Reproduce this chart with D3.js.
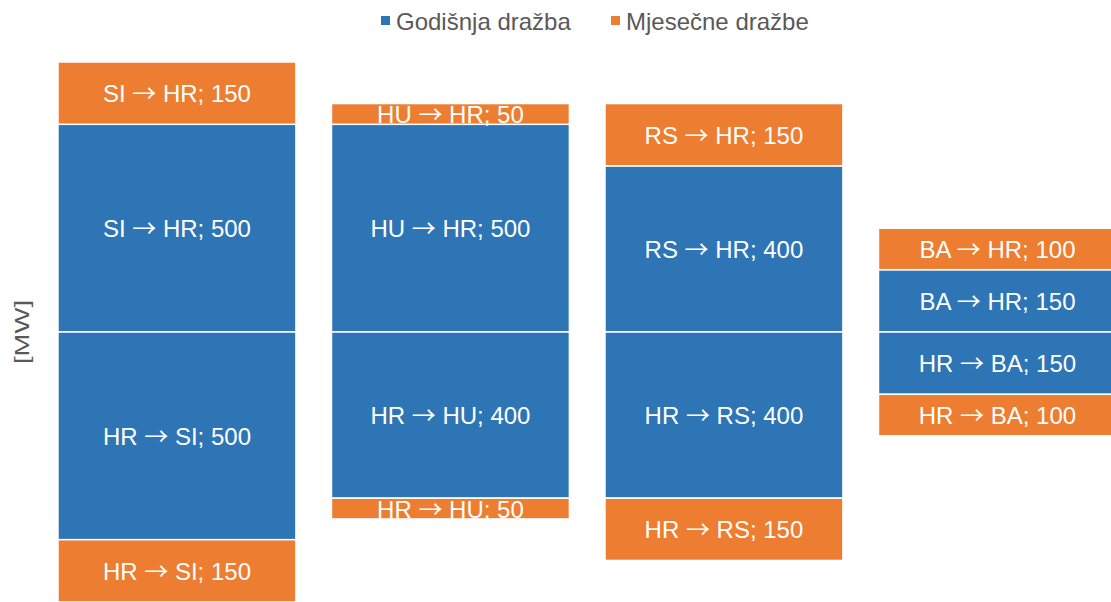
<!DOCTYPE html>
<html><head><meta charset="utf-8">
<script src="https://cdn.jsdelivr.net/npm/d3@7"></script>
<style>html,body{margin:0;padding:0;background:#fff;overflow:hidden}</style>
</head><body>
<svg id="c" width="1111" height="602"></svg>
<script>
const groups = ["SI", "HU", "RS", "BA"];
const annualImport = [500, 500, 400, 150];   // X → HR, Godišnja dražba
const monthlyImport = [150, 50, 150, 100];   // X → HR, Mjesečne dražbe
const annualExport = [500, 400, 400, 150];   // HR → X, Godišnja dražba
const monthlyExport = [150, 50, 150, 100];   // HR → X, Mjesečne dražbe
const legendLabels = ["Godišnja dražba", "Mjesečne dražbe"];
const yLabel = "[MW]";

const colors = { annual: "#2E75B6", monthly: "#ED7D31" };
const keys = ["annualImport", "monthlyImport", "annualExport", "monthlyExport"];
const kind = { annualImport: "annual", monthlyImport: "monthly", annualExport: "annual", monthlyExport: "monthly" };
const FONT = "Liberation Sans, Arial, sans-serif";

const rows = groups.map((g, i) => ({
  group: g,
  annualImport: annualImport[i],
  monthlyImport: monthlyImport[i],
  annualExport: -annualExport[i],
  monthlyExport: -monthlyExport[i]
}));

const series = d3.stack().keys(keys).offset(d3.stackOffsetDiverging)(rows);

const svg = d3.select("#c");
const x = d3.scaleBand().domain(groups).range([40.2, 1134.2]).paddingInner(0.13).paddingOuter(0.065);
const y = d3.scaleLinear().domain([-650, 650]).range([602, 62]);

const g = svg.append("g");
series.forEach(s => {
  const key = s.key;
  const seg = g.selectAll(null).data(s).enter();
  seg.append("rect")
    .attr("x", d => x(d.data.group))
    .attr("width", x.bandwidth())
    .attr("y", d => y(Math.max(d[0], d[1])))
    .attr("height", d => Math.abs(y(d[0]) - y(d[1])))
    .attr("fill", colors[kind[key]])
    .attr("stroke", "#fff")
    .attr("stroke-width", 1.5);
  const t = seg.append("text")
    .attr("x", d => x(d.data.group) + x.bandwidth() / 2)
    .attr("y", d => y((d[0] + d[1]) / 2) + 9)
    .attr("text-anchor", "middle")
    .attr("fill", "#fff")
    .attr("font-family", FONT)
    .attr("font-size", 24);
  const imp = key.endsWith("Import");
  t.append("tspan").text(d => (imp ? d.data.group : "HR") + " ");
  t.append("tspan").attr("font-family", "Noto Sans CJK SC").text("→");
  t.append("tspan").text(d => " " + (imp ? "HR" : d.data.group) + "; " + Math.abs(d.data[key]));
});

// y-axis label
svg.append("text")
  .attr("transform", "translate(29,332) rotate(-90)")
  .attr("text-anchor", "middle")
  .attr("fill", "#595959")
  .attr("font-family", FONT)
  .attr("font-size", 21)
  .attr("textLength", 64)
  .attr("lengthAdjust", "spacingAndGlyphs")
  .text(yLabel);

// legend
const legendX = [381, 611];
const legendColors = [colors.annual, colors.monthly];
legendLabels.forEach((lab, i) => {
  svg.append("rect").attr("x", legendX[i]).attr("y", 16).attr("width", 9).attr("height", 9).attr("fill", legendColors[i]);
  svg.append("text").attr("x", legendX[i] + 15).attr("y", 21)
    .attr("dominant-baseline", "central")
    .attr("fill", "#595959")
    .attr("font-family", FONT)
    .attr("font-size", 24)
    .text(lab);
});
</script>
</body></html>
